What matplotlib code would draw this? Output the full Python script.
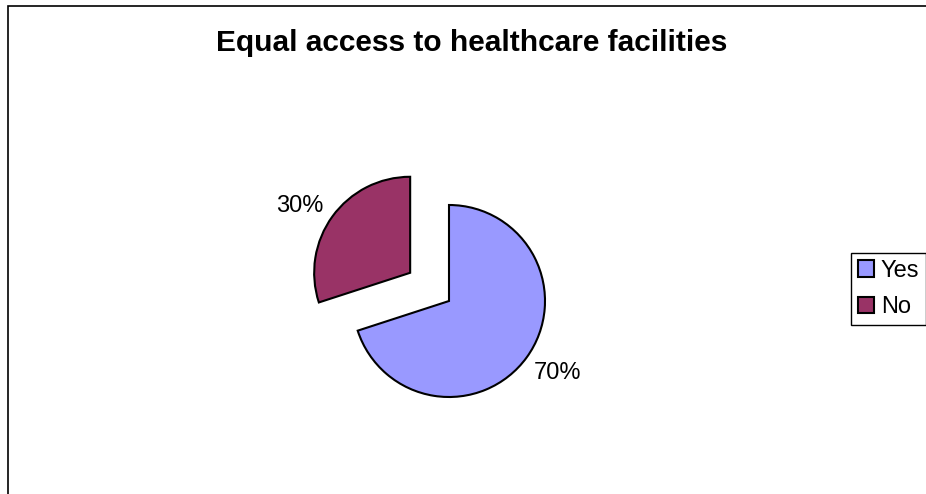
import matplotlib
matplotlib.use("Agg")
import matplotlib.pyplot as plt
from matplotlib.patches import Patch, Rectangle

# data
labels = ["Yes", "No"]
shares = [70, 30]
colors = ["#9999FF", "#993366"]
explode = [0, 0.5]

W, H = 926, 494
plt.rcParams["font.family"] = ["Liberation Sans", "DejaVu Sans"]

fig = plt.figure(figsize=(W / 100, H / 100), dpi=100)

# outer chart-area border (runs off the right and bottom edges)
fig.add_artist(Rectangle((7.5 / W, -0.1), 1.2, 1.1 - 6 / H, transform=fig.transFigure,
                         fill=False, edgecolor="black", linewidth=1.2))

# pie axes: centre at (449, 301) px, radius 96 px, limits +-1.5
cx, cy, r = 449, 301, 96
side = 3 * r
ax = fig.add_axes([(cx - side / 2) / W, (H - cy - side / 2) / H, side / W, side / H])
wedges, texts, autotexts = ax.pie(shares, colors=colors, explode=explode, startangle=90,
                                  counterclock=False, autopct="%1.0f%%", pctdistance=1.36,
                                  wedgeprops=dict(edgecolor="black", linewidth=1.5))
for t in autotexts:
    t.set_fontsize(17)
    t.set_color("black")
# excel puts the small slice's label a bit lower than the bisector
x, y = autotexts[1].get_position()
autotexts[1].set_position((x - 0.05, y - 0.1))
x, y = autotexts[0].get_position()
autotexts[0].set_position((x + 0.03, y + 0.05))
ax.set_xlim(-1.5, 1.5)
ax.set_ylim(-1.5, 1.5)
ax.set_aspect("equal")
ax.axis("off")

fig.text(472 / W, 1 - 43 / H, "Equal access to healthcare facilities", ha="center", va="center",
         fontsize=21.5, fontweight="bold")

handles = [Patch(facecolor=c, edgecolor="black", linewidth=1.5) for c in colors]
leg = fig.legend(handles, labels, loc="center left", bbox_to_anchor=(851 / W, 1 - 289 / H),
                 fontsize=17, frameon=True, fancybox=False, framealpha=1, edgecolor="black",
                 handlelength=0.68, handleheight=0.68, handletextpad=0.28, labelspacing=0.62,
                 borderpad=0.3, borderaxespad=0)
leg.get_frame().set_linewidth(1.0)

fig.savefig("out.png", dpi=100)
